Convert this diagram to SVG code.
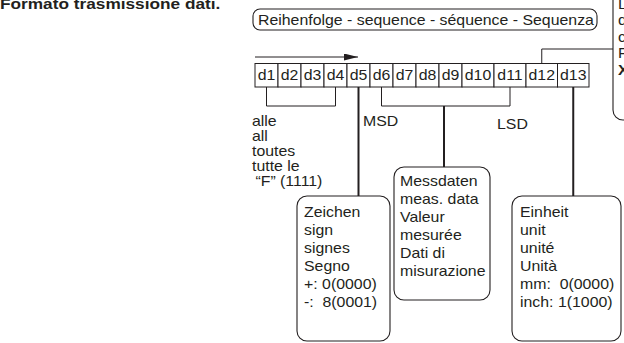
<svg xmlns="http://www.w3.org/2000/svg" width="624" height="343" viewBox="0 0 624 343">
<style>
.t{font-family:"Liberation Sans",Arial,Helvetica,sans-serif;font-size:13.8px;fill:#231f20}
.b{font-weight:bold}
.c{text-anchor:middle}
.box{fill:#fff;stroke:#231f20;stroke-width:1.1}
.cell{fill:#fff;stroke:#231f20;stroke-width:1}
.ln{fill:none;stroke:#231f20;stroke-width:1}
.thk{fill:none;stroke:#231f20;stroke-width:2}
</style>
<defs>
<marker id="ah" markerWidth="14" markerHeight="7" refX="14" refY="3.5" orient="auto" markerUnits="userSpaceOnUse"><path d="M0,0 L14,3.5 L0,7 z" fill="#231f20"/></marker>
</defs>
<rect width="624" height="343" fill="#fff"/>

<g id="title">
<text class="t b" style="font-size:15px" transform="translate(0,9) scale(1.15,1)">Formato trasmissione dati.</text>
</g>

<g id="sequence">
<rect class="box" x="253" y="9" width="344" height="21" rx="7"/>
<text class="t" transform="translate(258,25) scale(1.15,1)">Reihenfolge - sequence - séquence - Sequenza</text>
</g>

<g id="right-note">
<rect class="box" x="613" y="-12" width="30" height="132" rx="10"/>
<text class="t" transform="translate(618,0) scale(1.15,1)"><tspan x="0" y="9">L</tspan><tspan x="0" y="25.5">d</tspan><tspan x="0" y="42">c</tspan><tspan x="0" y="58.5">F</tspan><tspan x="0" y="75" font-weight="bold">X</tspan></text>
</g>

<g id="digits">
<rect class="cell" x="255" y="63.5" width="23" height="23.5"/>
<rect class="cell" x="278" y="63.5" width="23" height="23.5"/>
<rect class="cell" x="301" y="63.5" width="23" height="23.5"/>
<rect class="cell" x="324" y="63.5" width="23" height="23.5"/>
<rect class="cell" x="347" y="63.5" width="23" height="23.5"/>
<rect class="cell" x="370" y="63.5" width="23" height="23.5"/>
<rect class="cell" x="393" y="63.5" width="23" height="23.5"/>
<rect class="cell" x="416" y="63.5" width="23" height="23.5"/>
<rect class="cell" x="439" y="63.5" width="23" height="23.5"/>
<rect class="cell" x="462" y="63.5" width="32" height="23.5"/>
<rect class="cell" x="494" y="63.5" width="32" height="23.5"/>
<rect class="cell" x="526" y="63.5" width="31.5" height="23.5"/>
<rect class="cell" x="557.5" y="63.5" width="31.5" height="23.5"/>
<text class="t c" transform="translate(266.5,80) scale(1.15,1)">d1</text>
<text class="t c" transform="translate(289.5,80) scale(1.15,1)">d2</text>
<text class="t c" transform="translate(312.5,80) scale(1.15,1)">d3</text>
<text class="t c" transform="translate(335.5,80) scale(1.15,1)">d4</text>
<text class="t c" transform="translate(358.5,80) scale(1.15,1)">d5</text>
<text class="t c" transform="translate(381.5,80) scale(1.15,1)">d6</text>
<text class="t c" transform="translate(404.5,80) scale(1.15,1)">d7</text>
<text class="t c" transform="translate(427.5,80) scale(1.15,1)">d8</text>
<text class="t c" transform="translate(450.5,80) scale(1.15,1)">d9</text>
<text class="t c" transform="translate(478,80) scale(1.15,1)">d10</text>
<text class="t c" transform="translate(510,80) scale(1.15,1)">d11</text>
<text class="t c" transform="translate(541.75,80) scale(1.15,1)">d12</text>
<text class="t c" transform="translate(573.25,80) scale(1.15,1)">d13</text>
</g>

<g id="labels">
<text class="t" transform="translate(252,0) scale(1.15,1)"><tspan x="0" y="126">alle</tspan><tspan x="0" y="141">all</tspan><tspan x="0" y="156">toutes</tspan><tspan x="0" y="171">tutte le</tspan><tspan x="3" y="186">“F” (1111)</tspan></text>
<text class="t" transform="translate(363,126) scale(1.15,1)">MSD</text>
<text class="t" transform="translate(497,129) scale(1.15,1)">LSD</text>
</g>

<g id="sign-box">
<rect class="box" x="297" y="196" width="93" height="145" rx="10"/>
<text class="t" transform="translate(304,0) scale(1.15,1)"><tspan x="0" y="217">Zeichen</tspan><tspan x="0" y="235">sign</tspan><tspan x="0" y="253">signes</tspan><tspan x="0" y="271">Segno</tspan><tspan x="0" y="289">+: 0(0000)</tspan><tspan x="0" y="307">-:&#160; 8(0001)</tspan></text>
</g>

<g id="data-box">
<rect class="box" x="394" y="167" width="96" height="133" rx="10"/>
<text class="t" transform="translate(400,0) scale(1.15,1)"><tspan x="0" y="186">Messdaten</tspan><tspan x="0" y="204">meas. data</tspan><tspan x="0" y="222">Valeur</tspan><tspan x="0" y="240">mesurée</tspan><tspan x="0" y="258">Dati di</tspan><tspan x="0" y="276">misurazione</tspan></text>
</g>

<g id="unit-box">
<rect class="box" x="512" y="196" width="109" height="145" rx="10"/>
<text class="t" transform="translate(520,0) scale(1.15,1)"><tspan x="0" y="217">Einheit</tspan><tspan x="0" y="235">unit</tspan><tspan x="0" y="253">unité</tspan><tspan x="0" y="271">Unità</tspan><tspan x="0" y="289">mm:&#160; 0(0000)</tspan><tspan x="0" y="307">inch: 1(1000)</tspan></text>
</g>

<g id="connectors">
<line class="ln" x1="255" y1="57" x2="358" y2="57" marker-end="url(#ah)"/>
<path class="ln" d="M266.5,87 V106 H335.5 V87"/>
<path class="ln" d="M381.5,87 V106 H510 V87"/>
<line class="thk" x1="444" y1="106" x2="444" y2="167"/>
<line class="thk" x1="358.5" y1="87" x2="358.5" y2="196"/>
<line class="thk" x1="573.25" y1="87" x2="573.25" y2="196"/>
<path class="ln" d="M541.75,63.5 V49 H613"/>
</g>
</svg>
